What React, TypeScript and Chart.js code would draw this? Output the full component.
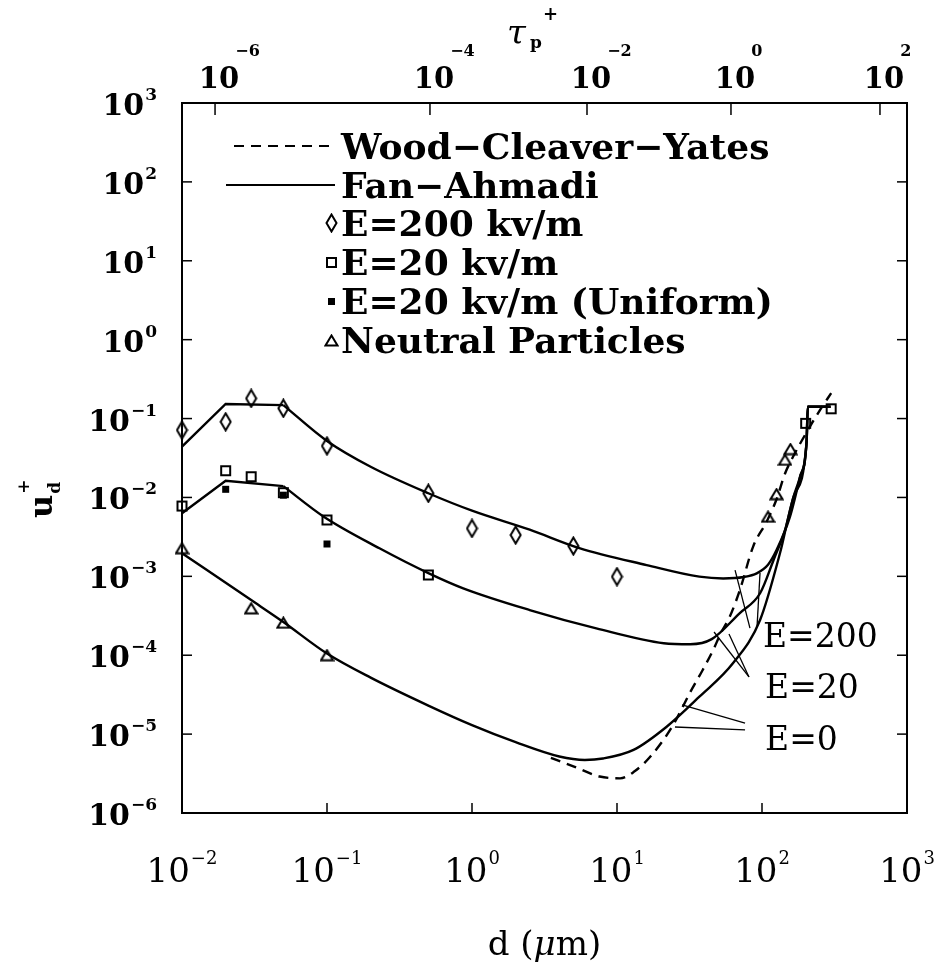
import React, { useEffect, useRef } from "react";
import { Chart, registerables } from "chart.js";

Chart.register(...registerables);

// ---------- data (d in µm, u_d+) ----------
const e200D = [0.01, 0.02, 0.03, 0.05, 0.1, 0.5, 1, 2, 5, 10];
const e200U = [0.0714, 0.091, 0.18, 0.135, 0.045, 0.0113, 0.00405, 0.00334, 0.00242, 0.00099];

const e20D = [0.01, 0.02, 0.03, 0.05, 0.1, 0.5, 200, 300];
const e20U = [0.00778, 0.0218, 0.0183, 0.0115, 0.00518, 0.00104, 0.087, 0.133];

const uniformD = [0.02, 0.05, 0.1];
const uniformU = [0.0127, 0.0107, 0.00257];

const neutralD = [0.01, 0.03, 0.05, 0.1, 110, 126, 144, 157];
const neutralU = [0.00227, 0.000393, 0.000258, 0.0001, 0.0057, 0.011, 0.03, 0.041];

// Fan-Ahmadi curves: straight head (small d) + smooth body
const fanE200HeadD = [0.01, 0.02, 0.05];
const fanE200HeadU = [0.044, 0.153, 0.148];
const fanE200D = [0.05, 0.1, 0.2, 0.5, 1, 2.5, 5.5, 16, 37, 54, 75, 92, 110, 126, 156, 183, 203, 207, 297];
const fanE200U = [0.148, 0.052, 0.0245, 0.0113, 0.0068, 0.0039, 0.00228, 0.00139, 0.00099, 0.00094, 0.00098, 0.00109, 0.0014, 0.00215, 0.0057, 0.0183, 0.0508, 0.141, 0.141];

const fanE20HeadD = [0.01, 0.02, 0.05];
const fanE20HeadU = [0.0063, 0.0163, 0.0139];
const fanE20D = [0.05, 0.095, 0.23, 0.5, 0.87, 2.5, 7.2, 21, 32, 45, 70, 97, 120, 145, 165, 183, 203, 207, 297];
const fanE20U = [0.0139, 0.0057, 0.00227, 0.0011, 0.000705, 0.000374, 0.000219, 0.000142, 0.000138, 0.00016, 0.00034, 0.00061, 0.0016, 0.004, 0.0102, 0.0183, 0.0508, 0.141, 0.141];

const fanE0D = [0.01, 0.03, 0.05, 0.1, 0.2, 0.5, 1, 2, 4, 6, 8, 13, 22, 37, 63, 97, 133, 165, 203, 207, 297];
const fanE0U = [0.00196, 0.0005, 0.000264, 0.000105, 5.2e-5, 2.3e-5, 1.3e-5, 7.9e-6, 5.2e-6, 4.7e-6, 4.9e-6, 6.3e-6, 1.24e-5, 2.98e-5, 7.9e-5, 2.8e-4, 0.00196, 0.0102, 0.0508, 0.141, 0.141];

const wcyD = [3.5, 5, 7.6, 10.5, 13, 17, 24, 32, 39, 46, 52, 60, 70, 87, 108, 126, 144, 164, 203, 251, 300];
const wcyU = [5.0e-6, 3.9e-6, 2.9e-6, 2.75e-6, 3.3e-6, 5.2e-6, 1.24e-5, 3.4e-5, 6.5e-5, 1.16e-4, 1.9e-4, 3.1e-4, 6.5e-4, 2.4e-3, 5e-3, 0.0095, 0.02, 0.033, 0.067, 0.128, 0.21];

// ---------- tick labels ----------
const xTickExps = [-2, -1, 0, 1, 2, 3];
const yTickExps = [-6, -5, -4, -3, -2, -1, 0, 1, 2, 3];
const tauExps = [-6, -4, -2, 0, 2];
const tauAtD = [0.0169, 0.513, 6.21, 61.1, 651];

// ---------- annotations (data coordinates) ----------
const regimeLabels = ["E=200", "E=20", "E=0"];
const regimeLabelAt = [
  [101.6, 1.27e-4],
  [105, 2.87e-5],
  [105, 6.3e-6],
];
const regimeLeaders = [
  [
    [[82.6, 2.21e-4], [65.2, 1.2e-3]],
    [[92.4, 2.27e-4], [96.9, 1.1e-3]],
  ],
  [
    [[81.3, 5.3e-5], [46.7, 1.97e-4]],
    [[81.3, 5.3e-5], [59.2, 1.86e-4]],
  ],
  [
    [[76.4, 1.38e-5], [28.1, 2.34e-5]],
    [[76.4, 1.13e-5], [25.1, 1.23e-5]],
  ],
];

const pts = (xs: number[], ys: number[]) => xs.map((x, i) => ({ x, y: ys[i] }));
const minus = (n: number) => (n < 0 ? "\u2212" + Math.abs(n) : String(n));

function makeMarker(kind: string): HTMLCanvasElement {
  const c = document.createElement("canvas");
  const g = () => c.getContext("2d") as CanvasRenderingContext2D;
  if (kind === "diamond") {
    c.width = 13; c.height = 20;
    const k = g();
    k.strokeStyle = "#000"; k.lineWidth = 2;
    k.beginPath();
    k.moveTo(6.5, 1.5); k.lineTo(11.5, 10); k.lineTo(6.5, 18.5); k.lineTo(1.5, 10); k.closePath();
    k.stroke();
  } else if (kind === "square") {
    c.width = 13; c.height = 13;
    const k = g();
    k.strokeStyle = "#000"; k.lineWidth = 2;
    k.strokeRect(2, 2, 9, 9);
  } else if (kind === "filled") {
    c.width = 9; c.height = 9;
    const k = g();
    k.fillStyle = "#000";
    k.fillRect(1, 1, 7, 7);
  } else {
    c.width = 15; c.height = 13;
    const k = g();
    k.strokeStyle = "#000"; k.lineWidth = 2;
    k.beginPath();
    k.moveTo(7.5, 1.5); k.lineTo(13.5, 11.5); k.lineTo(1.5, 11.5); k.closePath();
    k.stroke();
  }
  return c;
}

const SERIF = '"DejaVu Serif"';

export default function App() {
  const ref = useRef<HTMLCanvasElement | null>(null);

  useEffect(() => {
    if (!ref.current) return;
    const diamond = makeMarker("diamond");
    const square = makeMarker("square");
    const filled = makeMarker("filled");
    const tri = makeMarker("triangle");

    const lineDs = (label: string, xs: number[], ys: number[], dash: number[] = [], smooth = true) => ({
      label,
      data: pts(xs, ys),
      showLine: true,
      borderColor: "#000",
      borderWidth: 2.4,
      borderDash: dash,
      pointRadius: 0,
      cubicInterpolationMode: smooth ? ("monotone" as const) : ("default" as const),
      tension: 0,
      fill: false,
      clip: false as any,
    });
    const markDs = (label: string, xs: number[], ys: number[], style: HTMLCanvasElement) => ({
      label,
      data: pts(xs, ys),
      showLine: false,
      pointStyle: style,
      pointRadius: 5,
      borderColor: "#000",
      backgroundColor: "#000",
      clip: false as any,
    });

    const datasets: any[] = [
      lineDs("Wood\u2212Cleaver\u2212Yates", wcyD, wcyU, [10, 7]),
      lineDs("Fan\u2212Ahmadi", fanE200D, fanE200U),
      lineDs("Fan\u2212Ahmadi E=20", fanE20D, fanE20U),
      lineDs("Fan\u2212Ahmadi E=0", fanE0D, fanE0U),
      markDs("E=200 kv/m", e200D, e200U, diamond),
      markDs("E=20 kv/m", e20D, e20U, square),
      markDs("E=20 kv/m (Uniform)", uniformD, uniformU, filled),
      markDs("Neutral Particles", neutralD, neutralU, tri),
      lineDs("Fan\u2212Ahmadi E=200 (small d)", fanE200HeadD, fanE200HeadU, [], false),
      lineDs("Fan\u2212Ahmadi E=20 (small d)", fanE20HeadD, fanE20HeadU, [], false),
    ];

    const axisCommon = {
      type: "logarithmic" as const,
      display: true,
      grid: { display: false, drawTicks: false },
      ticks: { display: false },
      border: { display: true, color: "#000", width: 2 },
    };

    const decor = {
      id: "decor",
      afterDraw(chart: any) {
        const { ctx, chartArea: a, scales } = chart;
        const x = scales.x, y = scales.y, xt = scales.xTop;
        ctx.save();
        ctx.fillStyle = "#000";
        ctx.strokeStyle = "#000";
        const seg = (x1: number, y1: number, x2: number, y2: number) => {
          ctx.beginPath(); ctx.moveTo(x1, y1); ctx.lineTo(x2, y2); ctx.stroke();
        };

        // inner tick marks
        ctx.lineWidth = 1.5;
        xTickExps.slice(1, -1).forEach((e) => {
          const px = x.getPixelForValue(Math.pow(10, e));
          seg(px, a.bottom, px, a.bottom - 10);
        });
        yTickExps.slice(1, -1).forEach((e) => {
          const py = y.getPixelForValue(Math.pow(10, e));
          seg(a.left, py, a.left + 10, py);
          seg(a.right, py, a.right - 10, py);
        });
        tauAtD.forEach((d) => {
          const px = xt.getPixelForValue(d);
          seg(px, a.top, px, a.top + 12);
        });

        ctx.textAlign = "left";
        ctx.textBaseline = "alphabetic";

        // bottom tick labels
        xTickExps.forEach((e) => {
          const px = x.getPixelForValue(Math.pow(10, e));
          ctx.font = `34px ${SERIF}`;
          const wb = ctx.measureText("10").width;
          ctx.font = `18px ${SERIF}`;
          const es = minus(e);
          const ws = ctx.measureText(es).width;
          const left = px - (wb + ws + 1) / 2;
          ctx.font = `34px ${SERIF}`;
          ctx.fillText("10", left, a.bottom + 69);
          ctx.font = `18px ${SERIF}`;
          ctx.fillText(es, left + wb + 1, a.bottom + 51);
        });

        // left tick labels
        yTickExps.forEach((e) => {
          const py = y.getPixelForValue(Math.pow(10, e));
          const right = a.left - 25;
          const es = minus(e);
          ctx.font = `bold 17px ${SERIF}`;
          const ws = ctx.measureText(es).width;
          ctx.fillText(es, right - ws, py - 3);
          ctx.font = `bold 30px ${SERIF}`;
          const wb = ctx.measureText("10").width;
          ctx.fillText("10", right - ws - 1 - wb, py + 12);
        });

        // top tick labels (tau_p+)
        tauExps.forEach((e, i) => {
          const px = xt.getPixelForValue(tauAtD[i]);
          ctx.font = `bold 29px ${SERIF}`;
          const wb = ctx.measureText("10").width;
          const left = px + 4 - wb / 2;
          ctx.fillText("10", left, a.top - 15);
          ctx.font = `bold 16px ${SERIF}`;
          ctx.fillText(minus(e), left + wb - 4, a.top - 47);
        });

        // top title tau_p+
        ctx.font = `italic 34px ${SERIF}`;
        ctx.fillText("\u03c4", 507, 44);
        ctx.font = `bold 17px ${SERIF}`;
        ctx.fillText("p", 530, 48);
        ctx.font = `bold 18px ${SERIF}`;
        ctx.fillText("+", 543, 20);

        // bottom title d (µm)
        {
          const parts: [string, string][] = [
            ["d (", `34px ${SERIF}`],
            ["\u03bc", `italic 34px ${SERIF}`],
            ["m)", `34px ${SERIF}`],
          ];
          let tw = 0;
          parts.forEach(([t, f]) => { ctx.font = f; tw += ctx.measureText(t).width; });
          let cx = (a.left + a.right) / 2 - tw / 2;
          parts.forEach(([t, f]) => {
            ctx.font = f;
            ctx.fillText(t, cx, 955);
            cx += ctx.measureText(t).width;
          });
        }

        // left title u_d+
        ctx.save();
        ctx.translate(52, 518);
        ctx.rotate(-Math.PI / 2);
        ctx.font = `bold 32px ${SERIF}`;
        ctx.fillText("u", 0, 0);
        const uw = ctx.measureText("u").width;
        ctx.font = `bold 17px ${SERIF}`;
        ctx.fillText("d", uw + 1, 8);
        ctx.fillText("+", uw + 1, -23);
        ctx.restore();

        // regime annotations
        ctx.lineWidth = 1.3;
        regimeLeaders.forEach((group) => {
          group.forEach(([p1, p2]) => {
            seg(x.getPixelForValue(p1[0]), y.getPixelForValue(p1[1]), x.getPixelForValue(p2[0]), y.getPixelForValue(p2[1]));
          });
        });
        ctx.font = `33px ${SERIF}`;
        regimeLabels.forEach((t, i) => {
          ctx.fillText(t, x.getPixelForValue(regimeLabelAt[i][0]), y.getPixelForValue(regimeLabelAt[i][1]));
        });

        // legend
        const ds = chart.data.datasets;
        const rows = [
          { i: 0, kind: "dash", y: 146 },
          { i: 1, kind: "solid", y: 185 },
          { i: 4, kind: "mark", y: 223 },
          { i: 5, kind: "mark", y: 262 },
          { i: 6, kind: "mark", y: 301 },
          { i: 7, kind: "mark", y: 340 },
        ];
        const textX = 341;
        rows.forEach((r) => {
          const d = ds[r.i];
          if (r.kind === "mark") {
            const img = d.pointStyle as HTMLCanvasElement;
            ctx.drawImage(img, Math.round(331 - img.width / 2), Math.round(r.y - img.height / 2));
          } else {
            ctx.save();
            ctx.lineWidth = 2;
            ctx.setLineDash(r.kind === "dash" ? [10, 7] : []);
            seg(r.kind === "dash" ? 234 : 226, r.y, 335, r.y);
            ctx.restore();
          }
          ctx.font = `bold 36px ${SERIF}`;
          ctx.fillText(d.label, textX, r.y + 13);
        });

        ctx.restore();
      },
    };

    const chart = new Chart(ref.current, {
      type: "scatter",
      data: { datasets },
      options: {
        animation: false,
        responsive: false,
        devicePixelRatio: 1,
        events: [],
        layout: { padding: { left: 182, right: 30, top: 103, bottom: 154 } },
        plugins: { legend: { display: false }, tooltip: { enabled: false } },
        scales: {
          x: { ...axisCommon, position: "bottom", min: 0.01, max: 1000 },
          xTop: { ...axisCommon, position: "top", min: 0.01, max: 1000 },
          y: { ...axisCommon, position: "left", min: 1e-6, max: 1000 },
          yRight: { ...axisCommon, position: "right", min: 1e-6, max: 1000 },
        },
      } as any,
      plugins: [decor],
    });
    return () => chart.destroy();
  }, []);

  return (
    <div style={{ position: "absolute", left: 0, top: 0, width: 937, height: 967, background: "#fff" }}>
      <canvas ref={ref} width={937} height={967} />
    </div>
  );
}
